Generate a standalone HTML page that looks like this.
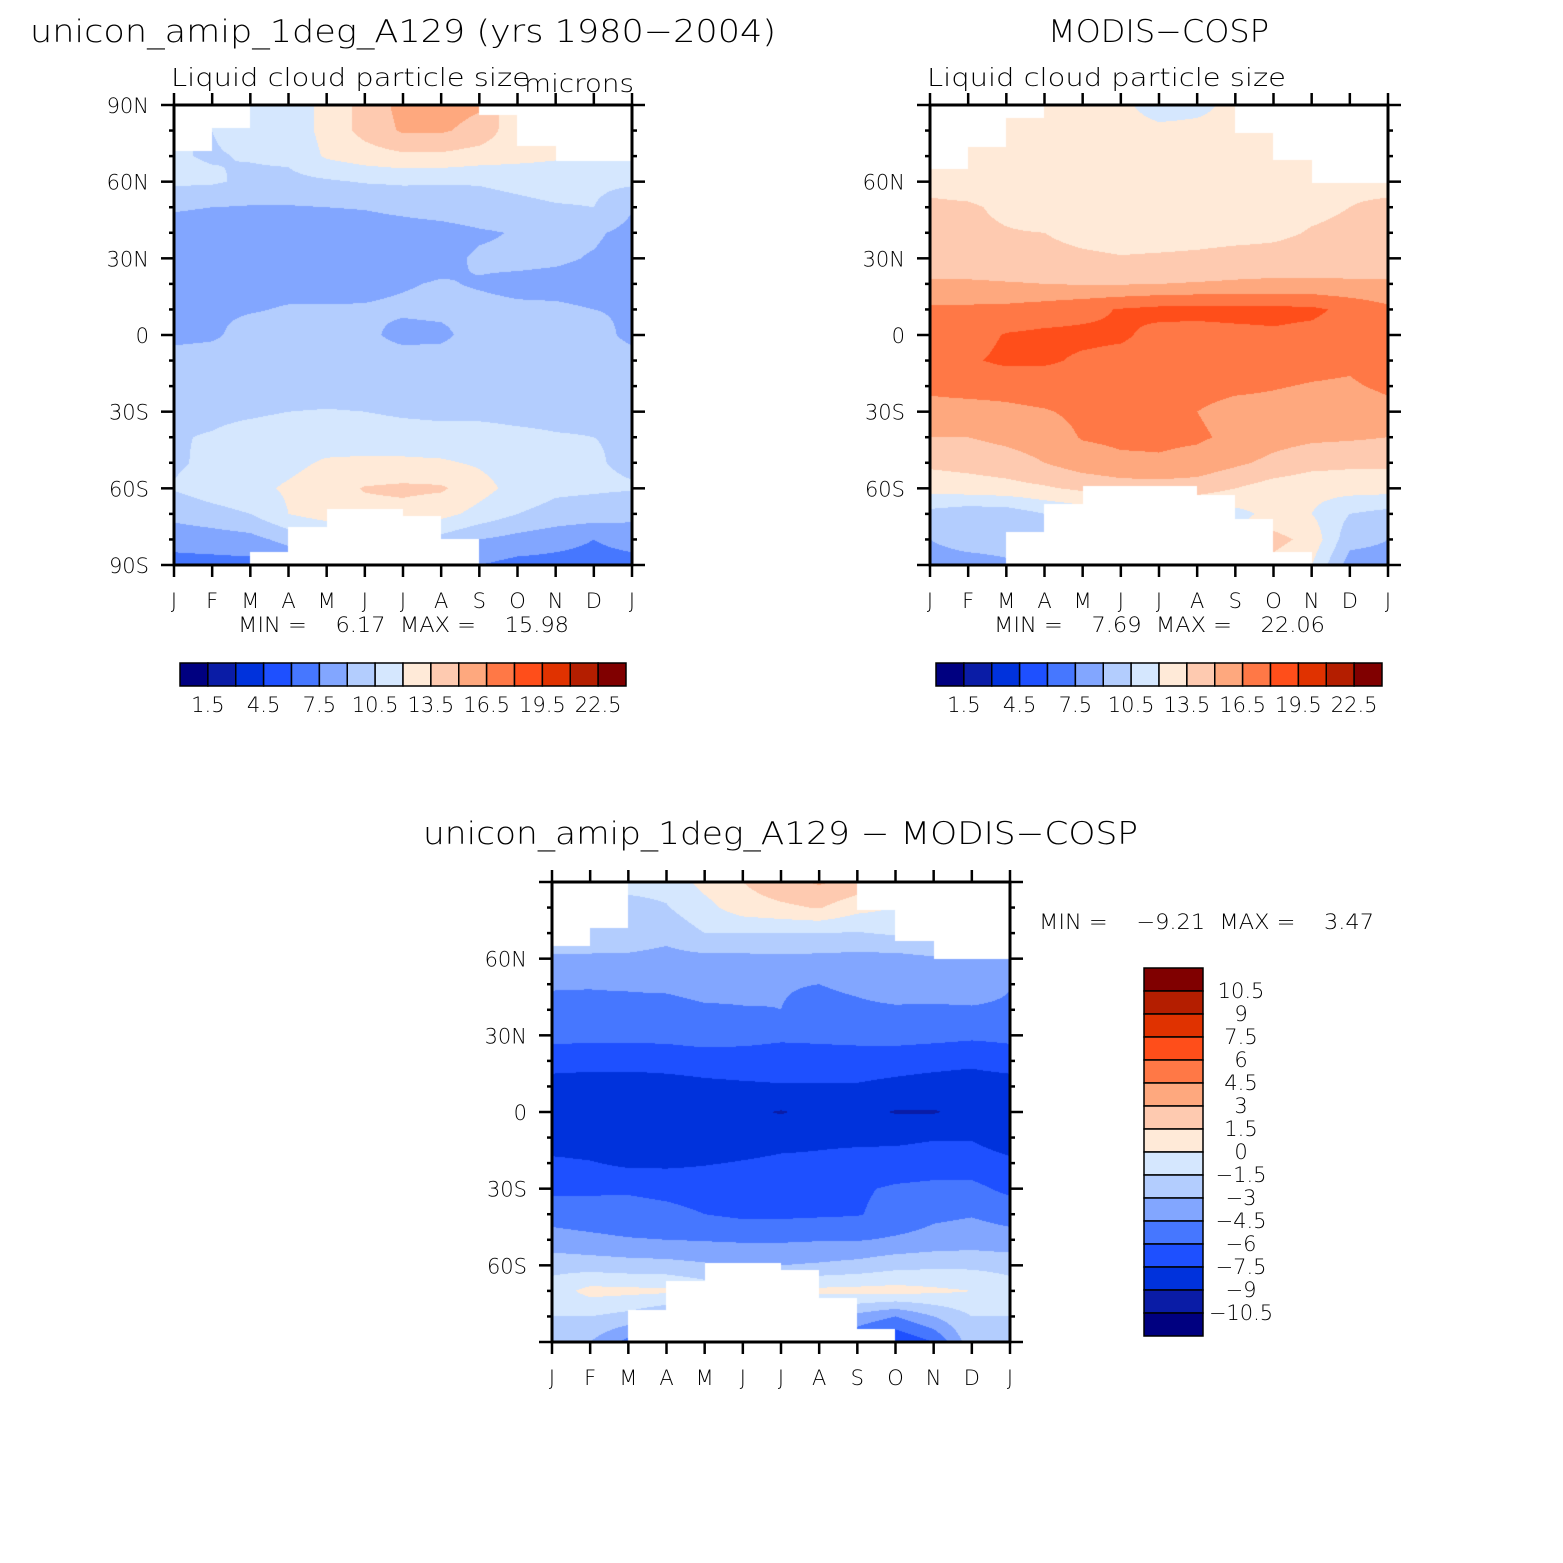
<!DOCTYPE html>
<html><head><meta charset="utf-8">
<style>
html,body{margin:0;padding:0;background:#fff;}
#wrap{position:relative;width:1563px;height:1563px;overflow:hidden;}
canvas{position:absolute;}
svg{position:absolute;left:0;top:0;}
text{font-family:"DejaVu Sans ExtraLight","DejaVu Sans","Liberation Sans",sans-serif;font-weight:200;fill:#000;white-space:pre;}
</style></head>
<body>
<div id="wrap">
<canvas id="cA" style="left:174px;top:105px" width="458" height="460"></canvas>
<canvas id="cB" style="left:930px;top:105px" width="458" height="460"></canvas>
<canvas id="cC" style="left:552px;top:882px" width="458" height="460"></canvas>
<svg id="ov" width="1563" height="1563"></svg>
</div>
<script>
const months = ["J","F","M","A","M","J","J","A","S","O","N","D","J"];
const lats = [90,80,70,60,50,40,30,20,10,0,-10,-20,-30,-40,-50,-60,-70,-80,-90];
const levelsAbs = [1.5,3,4.5,6,7.5,9,10.5,12,13.5,15,16.5,18,19.5,21,22.5];
const levelsDiff = [-10.5,-9,-7.5,-6,-4.5,-3,-1.5,0,1.5,3,4.5,6,7.5,9,10.5];
const absTickLabels = ["1.5","4.5","7.5","10.5","13.5","16.5","19.5","22.5"];
const diffTickLabels = ["10.5","9","7.5","6","4.5","3","1.5","0","\u22121.5","\u22123","\u22124.5","\u22126","\u22127.5","\u22129","\u221210.5"];
const colors = ["#000080","#0a1ca6","#0032dc","#1e50ff","#4677ff","#82a6ff","#b3cdfe","#d5e7fe","#ffead8","#fecab0","#fea87e","#ff7846","#ff4e1a","#e03200","#b41e00","#800000"];

const valuesA = [
[11,11,11,11,12.5,14,15.5,15.6,15.2,12,12,12,11],
[10.5,10.5,11,11,12.5,14,15.2,15.2,14.5,12.5,12,12,10.5],
[10.6,10.4,10.6,10.8,12.2,12.8,13.2,13.2,12.8,12.5,12.2,11,10.6],
[10.8,10.7,10.2,10.1,10.3,10.6,10.7,10.6,10.6,10.8,11,10.9,10.8],
[9.1,9.0,8.9,8.9,9.0,9.1,9.4,9.7,10,10.2,10.4,10.5,9.1],
[8.6,8.5,8.4,8.2,8.1,8.2,8.3,8.4,8.8,9.1,9.2,9.2,8.6],
[8.4,8.6,8.5,8.3,8.2,8.3,8.5,8.6,9.2,9.3,9.2,8.9,8.4],
[8.5,8.6,8.6,8.6,8.6,8.7,8.9,9.1,8.9,8.7,8.6,8.5,8.5],
[8.8,8.8,8.9,9.1,9.1,9.1,9.2,9.3,9.3,9.2,9.2,9.0,8.8],
[8.6,8.8,9.5,9.5,9.5,9.3,8.6,8.7,9.6,9.6,9.6,9.6,8.6],
[9.6,9.6,9.6,9.6,9.6,9.6,9.6,9.6,9.6,9.6,9.6,9.6,9.6],
[9.8,9.8,9.7,9.7,9.7,9.7,9.7,9.7,9.8,9.8,9.9,9.9,9.8],
[10.2,10.2,10.3,10.5,10.6,10.5,10.3,10.2,10.2,10.1,10.1,10.2,10.2],
[10.4,10.6,11,11.2,11.2,11.2,11.1,11,11,10.8,10.6,10.5,10.4],
[10.3,10.8,11.3,11.6,12.2,12.3,12.3,12.2,11.8,11.2,10.8,10.6,10.3],
[10.6,11.2,11.6,12.2,12.8,13.6,13.8,13.7,12.6,11.4,10.8,10.7,10.6],
[9.5,10,10.5,12,12.8,13,13,12.5,11.5,10.5,10,9.8,9.5],
[8,8.2,8.5,9.5,10,10,10,10,9,8.5,8,7.5,8],
[7,7,7,7.5,7.5,7.5,7.5,7.5,7.5,7,7,7,7]];

const valuesB = [
[12.5,12.5,11.5,12.5,12.8,12.5,11,11.5,12.5,12.5,12.5,12.5,12.5],
[12.5,12.5,12.6,12.6,12.8,12.8,12.5,12.5,12.5,12.6,12.5,12.5,12.5],
[12.8,12.6,12.6,12.5,12.5,12.5,12.4,12.4,12.5,12.6,12.7,12.8,12.8],
[13,12.8,12.6,12.4,12.4,12.6,12.8,12.6,12.4,12.6,12.8,13.2,13],
[13.8,13.7,13.2,12.6,12.6,12.7,12.9,12.8,12.8,13,13.2,13.5,13.8],
[14,13.8,13.6,13.5,13,12.8,12.8,12.9,13,13.2,13.6,13.8,14],
[14.2,14.1,14,14,13.8,13.6,13.7,13.8,14,14,14.1,14.2,14.2],
[15.2,15.2,15.1,15,14.9,14.9,15,15.1,15.2,15.3,15.3,15.2,15.2],
[16.8,16.8,16.9,17.2,17.6,18.1,18.4,18.5,18.5,18.4,18.3,17.6,16.8],
[17.2,17.4,18.1,18.3,18.3,18.2,17.6,17.4,17.6,17.8,17.6,17.4,17.2],
[17.5,17.8,18.3,18.2,17.8,17.6,17.5,17.3,17.2,17.2,17,16.8,17.5],
[16.8,17,17,17.2,17.6,17.5,17.3,17,16.8,16.6,16.4,16.3,16.8],
[16,16,16.2,16.4,16.8,17,16.8,16.5,16,16,15.8,15.6,16],
[15,15,15.4,15.8,16.6,16.8,16.8,16.7,16.2,15.6,15.3,15.2,15],
[13.8,14,14.3,15,15.8,16.2,16.3,16,15.3,14.6,14,13.8,13.8],
[12.6,12.8,13,13.3,13.8,14.2,14.3,14.2,13.5,12.8,12.5,12.6,12.6],
[10,9.5,9.6,10.5,11,11.5,11.5,11.5,11.5,12.5,12,10.5,10],
[9,9.5,9.5,10,10,10,10,10.5,12,14,13,9.5,9],
[8.5,8.5,8.8,9,9,9,9,9,11,13,12,8.3,8.5]];

const valuesC = [
[-1,-0.5,-1,-1,0.5,1.5,2.5,3.2,2.5,1,0.5,0,-1],
[-1.5,-1.4,-2,-1.6,-0.5,0.8,1.2,1.6,0.5,0,-0.5,-1,-1.5],
[-2,-2.2,-2,-2.5,-1.5,-1.5,-1.5,-1.5,-1.6,-1.3,-1,-2,-2],
[-3.2,-3.2,-3.3,-3.5,-3.4,-3.4,-3.3,-3.4,-3.5,-3.5,-3.2,-3,-3.2],
[-4.4,-4.4,-4.3,-4.1,-3.7,-4.0,-4.4,-4.5,-4.2,-3.7,-3.5,-3.5,-4.4],
[-4.8,-4.9,-5,-5.2,-4.8,-4.6,-4.5,-5,-4.8,-4.7,-4.8,-4.7,-4.8],
[-5.6,-5.6,-5.6,-5.5,-5.2,-5.4,-5.7,-5.6,-5.4,-5.3,-5.5,-5.7,-5.6],
[-6.8,-6.9,-7.0,-7.0,-6.9,-6.8,-6.8,-6.8,-6.9,-7.0,-7.1,-7.2,-6.8],
[-8.2,-8.3,-8.2,-8,-7.8,-7.7,-7.6,-7.6,-7.6,-7.8,-8,-8.2,-8.2],
[-8.4,-8.4,-8.5,-8.5,-8.6,-8.7,-9.1,-8.6,-8.6,-9.1,-9.1,-8.6,-8.4],
[-8.3,-8.4,-8.6,-8.6,-8.5,-8.3,-8,-7.8,-7.8,-7.8,-7.6,-7.6,-8.3],
[-7.2,-7.4,-7.8,-7.8,-7.6,-7.4,-7.2,-7.2,-7,-6.9,-6.8,-6.8,-7.2],
[-6.4,-6.3,-6.2,-6.4,-6.6,-6.2,-6.1,-6.4,-6.2,-5.8,-5.6,-5.6,-6.4],
[-5,-5.2,-5.4,-5.6,-6,-6.3,-6.3,-6.2,-6.1,-5.5,-4.8,-4.6,-5],
[-4,-4.2,-4.4,-4.5,-4.6,-4.7,-4.7,-4.6,-4.6,-4.3,-4,-3.8,-4],
[-2,-2.2,-2.4,-2.5,-2.8,-3,-3,-2.8,-2.5,-2,-1.8,-1.8,-2],
[-0.8,0.5,0.4,0.3,-0.5,-0.6,-0.5,0.4,0.5,0.6,0.3,0,-0.8],
[-1.5,-1.5,-2,-3,-3,-3,-3,-3,-3.5,-4.5,-3,-1.5,-1.5],
[-2.5,-3,-5,-6,-6,-6,-6,-6,-6,-7.5,-6,-2,-2.5]];

// missing-data limits per month interval (lat above north / below south is blank)
const northA = [72,81,90,90,90,90,90,90,86,74,68,68];
const southA = [-90,-90,-85,-75,-68,-68,-71,-80,-90,-90,-90,-90];
const northB = [65,73.6,85,90,90,90,90,90,79,68.5,59.5,59.5];
const southB = [-90,-90,-77,-66,-59,-59,-59,-62.6,-72,-85,-90,-90];
const northC = [65,72,90,90,90,90,90,90,79,67,60,60];
const southC = [-90,-90,-77.5,-66,-59,-59,-62,-72.6,-85,-90,-90,-90];

function levelIndex(v, lv){let i=0;while(i<lv.length&&v>=lv[i])i++;return i;}
function hex(c){return [parseInt(c.substr(1,2),16),parseInt(c.substr(3,2),16),parseInt(c.substr(5,2),16)];}
const rgb = colors.map(hex);

function drawField(id, vals, lv, north, south){
  const cv=document.getElementById(id), ctx=cv.getContext('2d');
  const W=cv.width,H=cv.height, img=ctx.createImageData(W,H), d=img.data;
  for(let y=0;y<H;y++){
    const lat=90-(y+0.5)/H*180;
    const r=(90-lat)/10, r0=Math.min(17,Math.floor(r)), fr=r-r0;
    for(let x=0;x<W;x++){
      const m=(x+0.5)/W*12, c0=Math.min(11,Math.floor(m)), fc=m-c0;
      const mi=Math.min(11,Math.floor(m));
      let col;
      if(lat>north[mi]||lat<south[mi]){col=[255,255,255];}
      else{
        const v=(vals[r0][c0]*(1-fc)+vals[r0][c0+1]*fc)*(1-fr)+(vals[r0+1][c0]*(1-fc)+vals[r0+1][c0+1]*fc)*fr;
        col=rgb[levelIndex(v,lv)];
      }
      const k=(y*W+x)*4;d[k]=col[0];d[k+1]=col[1];d[k+2]=col[2];d[k+3]=255;
    }
  }
  ctx.putImageData(img,0,0);
}
drawField('cA',valuesA,levelsAbs,northA,southA);
drawField('cB',valuesB,levelsAbs,northB,southB);
drawField('cC',valuesC,levelsDiff,northC,southC);

const NS='http://www.w3.org/2000/svg', ov=document.getElementById('ov');
function el(tag,attrs,parent){const e=document.createElementNS(NS,tag);for(const k in attrs)e.setAttribute(k,attrs[k]);(parent||ov).appendChild(e);return e;}
function txt(s,x,y,size,anchor,name,len){
  const t=el('text',{x:x,y:y,'font-size':size,'text-anchor':anchor||'start'});
  if(len){t.setAttribute('textLength',len);t.setAttribute('lengthAdjust','spacingAndGlyphs');}
  t.textContent=s;
  
  
  return t;
}
function latLabel(l){return l===0?"0":(Math.abs(l)+(l>0?"N":"S"));}

function axes(x0,y0,w,h,showPoles,name){
  const g=el('g',{});
  
  
  const xs=i=>x0+i/12*w, ys=l=>y0+(90-l)/180*h;
  el('rect',{x:x0,y:y0,width:w,height:h,fill:'none',stroke:'#000','stroke-width':3},g);
  months.forEach((m,i)=>{
    const x=xs(i);
    el('line',{x1:x,y1:y0,x2:x,y2:y0-12,stroke:'#000','stroke-width':2.5},g);
    el('line',{x1:x,y1:y0+h,x2:x,y2:y0+h+12,stroke:'#000','stroke-width':2.5},g);
    txt(m,x,y0+h+43,21,'middle','month-label');
  });
  lats.forEach(l=>{
    const y=ys(l), major=(l%30===0), len=major?13:5;
    el('line',{x1:x0,y1:y,x2:x0-len,y2:y,stroke:'#000','stroke-width':2.5},g);
    el('line',{x1:x0+w,y1:y,x2:x0+w+len,y2:y,stroke:'#000','stroke-width':2.5},g);
    if(major&&(showPoles||Math.abs(l)<90)) txt(latLabel(l),x0-25,y+8,21,'end','latitude-label');
  });
}
axes(174,105,458,460,true,'model-axes');
axes(930,105,458,460,false,'modis-axes');
axes(552,882,458,460,false,'difference-axes');

txt("unicon_amip_1deg_A129 (yrs 1980\u22122004)",30,42,31,'start','model-title',746);
txt("Liquid cloud particle size",171,86,25,'start','model-subtitle',359);
txt("microns",524,92,25,'start','units-label',110);
txt("MODIS\u2212COSP",1048,42,31,'start','modis-title',221);
txt("Liquid cloud particle size",927,86,25,'start','modis-subtitle',359);
txt("unicon_amip_1deg_A129 \u2212 MODIS\u2212COSP",423,844,31,'start','difference-title',715);
txt("MIN =    6.17  MAX =    15.98",238,632,21,'start','model-min-max',331);
txt("MIN =    7.69  MAX =    22.06",994,632,21,'start','modis-min-max',331);
txt("MIN =    \u22129.21  MAX =    3.47",1039,929,21,'start','difference-min-max',335);

function hBar(x0,y0,name){
  const g=el('g',{});
  
  
  const bw=446/16;
  colors.forEach((c,i)=>{
    const r=el('rect',{x:x0+i*bw,y:y0,width:bw,height:23,fill:c,stroke:'#000','stroke-width':1.5},g);
    
    
  });
  absTickLabels.forEach((s,i)=>txt(s,x0+(1+2*i)*bw,y0+49,21,'middle','colorbar-label'));
}
hBar(180,663,'model-colorbar');
hBar(936,663,'modis-colorbar');

const vb=el('g',{});


const vh=368/16;
colors.slice().reverse().forEach((c,i)=>{
  const r=el('rect',{x:1144,y:968+i*vh,width:59,height:vh,fill:c,stroke:'#000','stroke-width':1.5},vb);
  
  
});
diffTickLabels.forEach((s,i)=>txt(s,1241,968+(i+1)*vh+7,21,'middle','colorbar-label'));
</script>
</body></html>
